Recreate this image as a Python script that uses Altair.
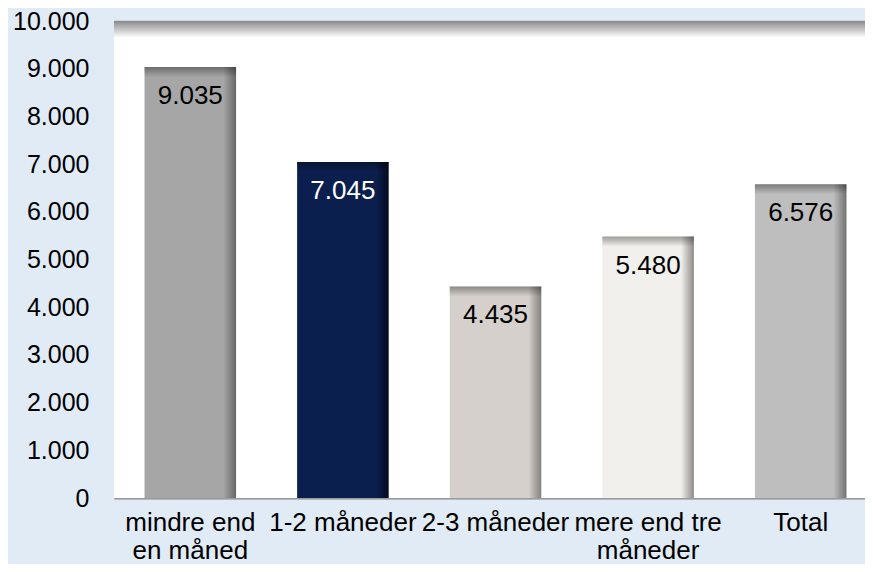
import altair as alt
import pandas as pd

categories = ["mindre end en måned", "1-2 måneder", "2-3 måneder", "mere end tre måneder", "Total"]
values = [9035, 7045, 4435, 5480, 6576]
label_lines = [["mindre end", "en måned"], ["1-2 måneder"], ["2-3 måneder"], ["mere end tre", "måneder"], ["Total"]]
y_ticks = list(range(0, 10001, 1000))

bar_colors = ["#a6a6a6", "#0b1f4f", "#d5d0cb", "#f1f0ec", "#bebebe"]
edge_colors = ["#676767", "#040b1f", "#85817c", "#8c8b88", "#727272"]
text_colors = ["#000000", "#ffffff", "#000000", "#000000", "#000000"]

df = pd.DataFrame({"cat": categories, "value": values})

FONT = "Liberation Sans"

# x-label expression (multi-line)
expr = "''"
for c, lines in reversed(list(zip(categories, label_lines))):
    arr = "[" + ",".join("'" + l + "'" for l in lines) + "]"
    expr = f"datum.value == '{c}' ? {arr} : ({expr})"

xscale = alt.Scale(domain=categories, range=[0, 763], paddingInner=0.4, paddingOuter=0.2)
yscale = alt.Scale(domain=[0, 10000])

x_enc = alt.X("cat:N", scale=xscale, sort=categories,
              axis=alt.Axis(title=None, labelAngle=0, labelExpr=expr, ticks=False,
                            domain=True, domainColor="#9a9a9a", domainWidth=2,
                            labelFontSize=26, labelLineHeight=28, labelPadding=11,
                            labelColor="#000000", labelFont=FONT))
y_enc = alt.Y("value:Q", scale=yscale,
              axis=alt.Axis(title=None, values=y_ticks, ticks=False, domain=False,
                            grid=True, gridColor="#9a9a9a", gridWidth=1.6,
                            labelExpr="replace(format(datum.value, ',d'), ',', '.')",
                            labelFontSize=25, labelPadding=25, labelColor="#000000",
                            labelFont=FONT))

base = alt.Chart(df)

plot_bg = alt.LinearGradient(
    gradient="linear", x1=0, x2=0, y1=0, y2=1,
    stops=[alt.GradientStop(color="#8a8a8a", offset=0),
           alt.GradientStop(color="#ffffff", offset=0.035),
           alt.GradientStop(color="#ffffff", offset=1)])
background = base.mark_rect(color=plot_bg).encode(
    x=alt.value(0), x2=alt.value("width"), y=alt.value(0), y2=alt.value("height"))

layers = []
for c, bc, ec in zip(categories, bar_colors, edge_colors):
    grad = alt.LinearGradient(
        gradient="linear", x1=0, x2=1, y1=0, y2=0,
        stops=[alt.GradientStop(color=bc, offset=0),
               alt.GradientStop(color=bc, offset=0.86),
               alt.GradientStop(color=ec, offset=1)])
    layers.append(
        base.transform_filter(alt.datum.cat == c)
        .mark_bar(color=grad)
        .encode(x=x_enc, y=y_enc)
    )

top_shade = alt.LinearGradient(
    gradient="linear", x1=0, x2=0, y1=0, y2=1,
    stops=[alt.GradientStop(color="rgba(0,0,0,0.35)", offset=0),
           alt.GradientStop(color="rgba(0,0,0,0)", offset=1)])
shade = base.mark_tick(color=top_shade, thickness=10, size=91.6, yOffset=5, opacity=1).encode(
    x=alt.X("cat:N", scale=xscale, sort=categories),
    y=alt.Y("value:Q", scale=yscale))

labels = base.transform_calculate(
    label="replace(format(datum.value, ',d'), ',', '.')"
).mark_text(fontSize=26, font=FONT, baseline="middle", align="center", dy=29).encode(
    x=alt.X("cat:N", scale=xscale, sort=categories),
    y=alt.Y("value:Q", scale=yscale),
    text="label:N",
    color=alt.Color("cat:N", scale=alt.Scale(domain=categories, range=text_colors), legend=None),
)

chart = alt.layer(background, *layers, shade, labels).properties(
    width=751, height=477,
    autosize=alt.AutoSizeParams(type="none"),
    padding={"left": 106, "top": 13, "right": 0, "bottom": 66},
    background="#e0ebf5",
).configure_view(
    strokeWidth=0,
).configure(font=FONT)

chart.save("out.html", embed_options={"renderer": "svg", "actions": False})
